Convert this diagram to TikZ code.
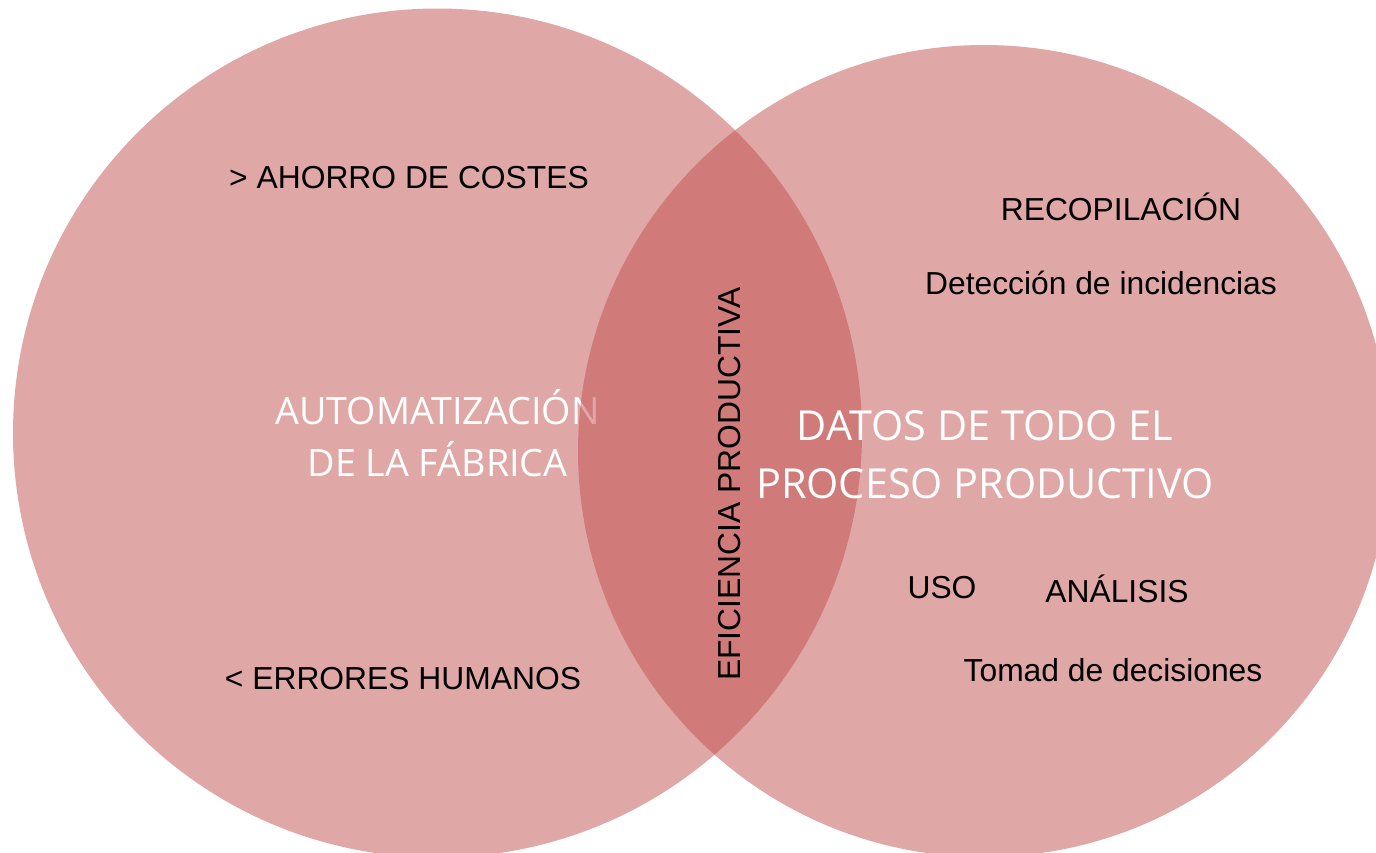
\documentclass[tikz,border=0pt]{standalone}
\usepackage{fontspec}
\setmainfont{Liberation Sans}
\newfontfamily\osans{Open Sans}
\definecolor{venn}{HTML}{C0504D}
\begin{document}
\begin{tikzpicture}[x=1pt,y=-1pt,
  venncircle/.style={fill=venn,fill opacity=0.5},
  smalltxt/.style={anchor=base,inner sep=0pt,text=black,font=\fontsize{31.8}{36}\selectfont},
  bigtxtA/.style={anchor=base,inner sep=0pt,text=white,font=\osans\fontsize{37.7}{42}\selectfont},
  bigtxtB/.style={anchor=base,inner sep=0pt,text=white,font=\osans\fontsize{41.4}{46}\selectfont}]
\useasboundingbox (0,0) rectangle (1376,852);
\clip (0,0) rectangle (1376,852);
\fill[venncircle] (437.5,433) circle[radius=424.5];
\node[bigtxtA] (a1) at (437.5,424) {AUTOMATIZACIÓN};
\node[bigtxtA] (a2) at (437.5,476) {DE LA FÁBRICA};
\fill[venncircle] (984,451) circle[radius=406];
\node[bigtxtB] (d1) at (985,440) {DATOS DE TODO EL};
\node[bigtxtB] (d2) at (985,498) {PROCESO PRODUCTIVO};
\node[smalltxt] (t1) at (409,188) {> AHORRO DE COSTES};
\node[smalltxt] (t2) at (403,689) {< ERRORES HUMANOS};
\node[smalltxt] (t3) at (1121,220) {RECOPILACIÓN};
\node[smalltxt] (t4) at (1101,294) {Detección de incidencias};
\node[smalltxt] (t5) at (942,598) {USO};
\node[smalltxt] (t6) at (1117,602) {ANÁLISIS};
\node[smalltxt] (t7) at (1113,681) {Tomad de decisiones};
\node[smalltxt,anchor=center,rotate=90] (t8) at (730,484) {EFICIENCIA PRODUCTIVA};
\end{tikzpicture}
\end{document}
